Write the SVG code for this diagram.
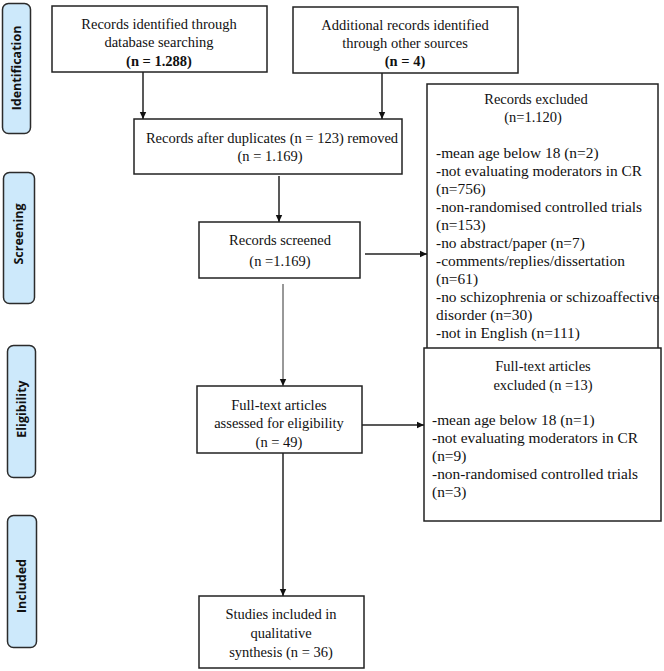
<svg xmlns="http://www.w3.org/2000/svg" width="664" height="671" viewBox="0 0 664 671">
<defs>
<marker id="ah" markerWidth="8" markerHeight="8" refX="7" refY="4" orient="auto" markerUnits="userSpaceOnUse">
<path d="M0,0.8 L7,4 L0,7.2 Z" fill="#111"/>
</marker>
<style>
.phase{fill:#cde9fb;stroke:#2b2b2b;stroke-width:1.5}
.plabel{font-family:"Open Sans","DejaVu Sans",sans-serif;font-weight:700;font-size:12.5px;fill:#111;text-anchor:middle}
.box{fill:#fff;stroke:#222;stroke-width:1.5}
.t{font-family:"Liberation Serif","Times New Roman",serif;font-size:14.5px;fill:#111;text-anchor:middle}
.l{font-family:"Liberation Serif","Times New Roman",serif;font-size:15.4px;fill:#111}
.b{font-weight:700}
.conn{stroke:#222;stroke-width:1.5;fill:none}
.thin{stroke:#333;stroke-width:1;fill:none}
</style>
</defs>
<rect width="664" height="671" fill="#fff"/>

<g id="phase-identification">
<rect class="phase" x="2.5" y="3.5" width="28" height="130" rx="6"/>
<text class="plabel" transform="translate(21,68) rotate(-90)">Identification</text>
</g>
<g id="phase-screening">
<rect class="phase" x="3.5" y="172.5" width="31" height="131" rx="6"/>
<text class="plabel" transform="translate(23,234) rotate(-90)">Screening</text>
</g>
<g id="phase-eligibility">
<rect class="phase" x="7.5" y="345.5" width="28" height="132" rx="6"/>
<text class="plabel" transform="translate(26,409) rotate(-90)">Eligibility</text>
</g>
<g id="phase-included">
<rect class="phase" x="7.5" y="515.5" width="29" height="132" rx="6"/>
<text class="plabel" transform="translate(26,586) rotate(-90)">Included</text>
</g>

<g id="db-records">
<rect class="box" x="52" y="6" width="215" height="66"/>
<text class="t" x="159" y="29">Records identified through</text>
<text class="t" x="159" y="47">database searching</text>
<text class="t b" x="159" y="66">(n = 1.288)</text>
</g>
<g id="other-records">
<rect class="box" x="293" y="7" width="225" height="66"/>
<text class="t" x="405" y="30">Additional records identified</text>
<text class="t" x="405" y="48">through other sources</text>
<text class="t b" x="405" y="66">(n = 4)</text>
</g>
<g id="after-duplicates">
<rect class="box" x="134" y="119" width="268" height="55"/>
<text class="t" x="272" y="143">Records after duplicates (n = 123) removed</text>
<text class="t" x="270" y="161">(n = 1.169)</text>
</g>
<g id="screened">
<rect class="box" x="199" y="222" width="161" height="56"/>
<text class="t" x="280" y="245">Records screened</text>
<text class="t" x="280" y="266">(n =1.169)</text>
</g>
<g id="records-excluded">
<rect class="box" x="427" y="84" width="231" height="266"/>
<text class="t" x="536" y="104">Records excluded</text>
<text class="t" x="533" y="122">(n=1.120)</text>
<text class="l" x="436" y="158">-mean age below 18 (n=2)</text>
<text class="l" x="436" y="176">-not evaluating moderators in CR</text>
<text class="l" x="436" y="194">(n=756)</text>
<text class="l" x="436" y="212">-non-randomised controlled trials</text>
<text class="l" x="436" y="230">(n=153)</text>
<text class="l" x="436" y="248">-no abstract/paper (n=7)</text>
<text class="l" x="436" y="266">-comments/replies/dissertation</text>
<text class="l" x="436" y="284">(n=61)</text>
<text class="l" x="436" y="302">-no schizophrenia or schizoaffective</text>
<text class="l" x="436" y="320">disorder (n=30)</text>
<text class="l" x="436" y="338">-not in English (n=111)</text>
</g>
<g id="fulltext-assessed">
<rect class="box" x="197" y="386" width="165" height="67"/>
<text class="t" x="279" y="410">Full-text articles</text>
<text class="t" x="279" y="428">assessed for eligibility</text>
<text class="t" x="279" y="447">(n = 49)</text>
</g>
<g id="fulltext-excluded">
<rect class="box" x="424" y="348" width="237" height="173"/>
<text class="t" x="543" y="371">Full-text articles</text>
<text class="t" x="543" y="390">excluded (n =13)</text>
<text class="l" x="432" y="425">-mean age below 18 (n=1)</text>
<text class="l" x="432" y="443">-not evaluating moderators in CR</text>
<text class="l" x="432" y="461">(n=9)</text>
<text class="l" x="432" y="479">-non-randomised controlled trials</text>
<text class="l" x="432" y="497">(n=3)</text>
</g>
<g id="included-studies">
<rect class="box" x="199" y="596" width="165" height="72"/>
<text class="t" x="281" y="619">Studies included in</text>
<text class="t" x="281" y="638">qualitative</text>
<text class="t" x="281" y="657">synthesis (n = 36)</text>
</g>

<g id="connectors">
<line class="conn" x1="143" y1="72" x2="143" y2="119" marker-end="url(#ah)"/>
<line class="conn" x1="382" y1="73" x2="382" y2="119" marker-end="url(#ah)"/>
<line class="conn" x1="279" y1="176" x2="279" y2="222" marker-end="url(#ah)"/>
<line class="conn" x1="365" y1="254" x2="427" y2="254" marker-end="url(#ah)"/>
<line class="thin" x1="283" y1="284" x2="283" y2="386" marker-end="url(#ah)"/>
<line class="conn" x1="362" y1="425" x2="424" y2="425" marker-end="url(#ah)"/>
<line class="conn" x1="283" y1="453" x2="283" y2="596" marker-end="url(#ah)"/>
</g>
</svg>
